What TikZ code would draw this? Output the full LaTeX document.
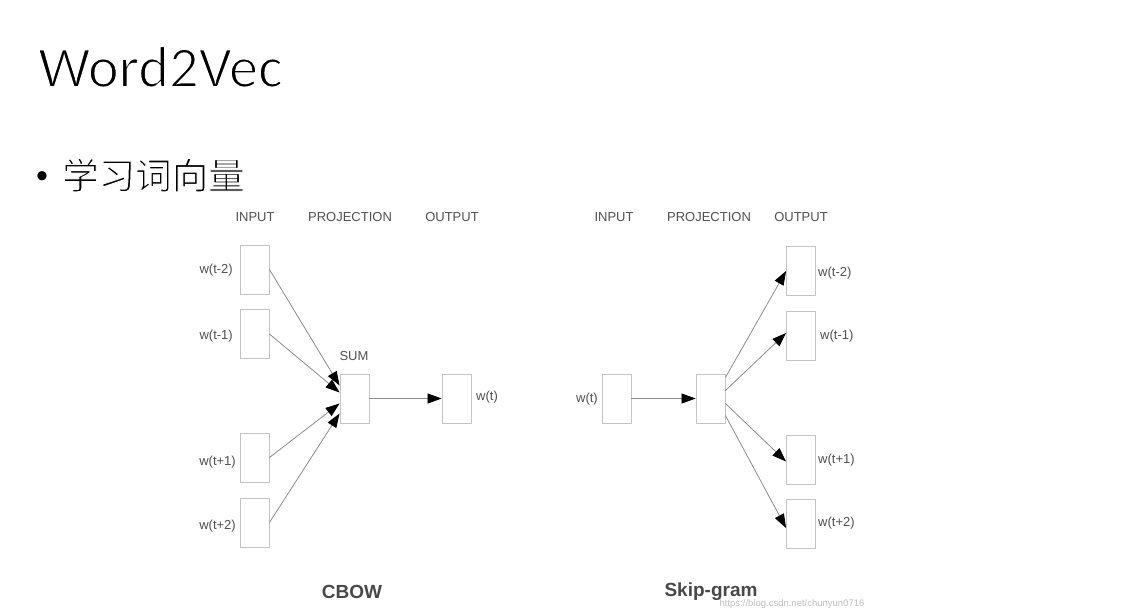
\documentclass[tikz,border=0pt]{standalone}
\usepackage{fontspec}
\setmainfont{Liberation Sans}
\newfontfamily\titlefont{Carlito}
\newfontfamily\cjk{Noto Sans CJK SC}
\usetikzlibrary{arrows.meta}
\definecolor{boxgray}{HTML}{C4C4C4}
\definecolor{linegray}{HTML}{8C8C8C}
\definecolor{txtgray}{HTML}{505050}
\newcommand{\thinon}[1]{\special{pdf:literal 2 Tr 1 1 1 RG #1 w}}
\newcommand{\thinoff}{\special{pdf:literal 0 Tr}}
\tikzset{
  wbox/.style={draw=boxgray, line width=0.9pt, minimum width=29pt, minimum height=49pt, inner sep=0pt},
  lbl/.style={font=\fontsize{13}{13}\selectfont, text=txtgray, inner sep=0pt},
  captionlbl/.style={font=\fontsize{19}{19}\selectfont\bfseries, text=txtgray!90!black, inner sep=0pt},
  arr/.style={draw=linegray, line width=0.8pt, -{Triangle[length=14pt,width=10pt,fill=black,color=black]}},
}
\begin{document}
\begin{tikzpicture}[x=1pt,y=-1pt]
\useasboundingbox[fill=white] (0,0) rectangle (1130,611);
% title
\node[anchor=base west, inner sep=0pt, font=\titlefont\fontsize{58.5}{58.5}\selectfont] (title) at (38,87) {\thinon{1.6}Word2Vec\thinoff};
\node[inner sep=0pt, font=\titlefont\fontsize{26}{26}\selectfont] (bullet) at (42,178) {•};
\node[anchor=west, inner sep=0pt, font=\cjk\fontsize{36.5}{36.5}\selectfont] (sub) at (62,175) {\thinon{1.0}学习词向量\thinoff};

% ---------- CBOW ----------
\node[lbl] (h1) at (255,217) {INPUT};
\node[lbl] (h2) at (350,217) {PROJECTION};
\node[lbl] (h3) at (452,217) {OUTPUT};

\node[wbox] (cin1) at (254.5,269.5) {};
\node[wbox] (cin2) at (254.5,334) {};
\node[wbox] (cin3) at (254.5,457.5) {};
\node[wbox] (cin4) at (254.5,522.5) {};
\node[wbox] (csum) at (354.5,398.5) {};
\node[wbox] (cout) at (456.5,398.5) {};

\node[lbl, anchor=east] (lc1) at (233,270) {w(t-2)};
\node[lbl, anchor=east] (lc2) at (233,336) {w(t-1)};
\node[lbl, anchor=east] (lc3) at (236,462) {w(t+1)};
\node[lbl, anchor=east] (lc4) at (236,526) {w(t+2)};
\node[lbl] (lsum) at (354,356) {SUM};
\node[lbl, anchor=west] (lcout) at (476,397) {w(t)};

\draw[arr] (cin1.east) -- ([yshift=13pt]csum.west);
\draw[arr] (cin2.east) -- ([yshift=6pt]csum.west);
\draw[arr] (cin3.east) -- ([yshift=-5pt]csum.west);
\draw[arr] (cin4.east) -- ([yshift=-15pt]csum.west);
\draw[arr] (csum.east) -- (cout.west);

\node[captionlbl] (cbow) at (352,592) {CBOW};

% ---------- Skip-gram ----------
\node[lbl] (g1) at (614,217) {INPUT};
\node[lbl] (g2) at (709,217) {PROJECTION};
\node[lbl] (g3) at (801,217) {OUTPUT};

\node[wbox] (sin) at (616.5,398.5) {};
\node[wbox] (sproj) at (710.5,398.5) {};
\node[wbox] (sout1) at (801,271) {};
\node[wbox] (sout2) at (801,336) {};
\node[wbox] (sout3) at (801,459.5) {};
\node[wbox] (sout4) at (801,524) {};

\node[lbl, anchor=east] (lsin) at (598,399) {w(t)};
\node[lbl, anchor=west] (ls1) at (818,273) {w(t-2)};
\node[lbl, anchor=west] (ls2) at (820,336) {w(t-1)};
\node[lbl, anchor=west] (ls3) at (818,460) {w(t+1)};
\node[lbl, anchor=west] (ls4) at (818,523) {w(t+2)};

\draw[arr] (sin.east) -- (sproj.west);
\draw[arr] ([yshift=21pt]sproj.east) -- (sout1.west);
\draw[arr] ([yshift=8pt]sproj.east) -- ([yshift=3pt]sout2.west);
\draw[arr] ([yshift=-5pt]sproj.east) -- ([yshift=-2pt]sout3.west);
\draw[arr] ([yshift=-17pt]sproj.east) -- ([yshift=-4pt]sout4.west);

\node[captionlbl] (skip) at (711,592) {Skip-gram};
\node[inner sep=0pt, text=black!25, font=\fontsize{9.5}{9.5}\selectfont] (wm) at (792,604) {https://blog.csdn.net/chunyun0716};
\end{tikzpicture}
\end{document}
